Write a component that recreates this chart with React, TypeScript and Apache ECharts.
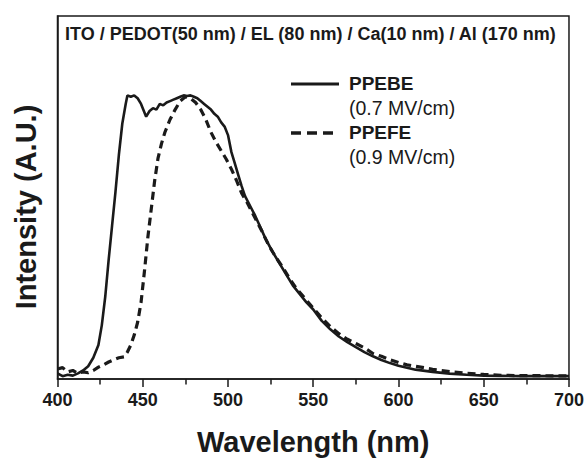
import React, { useEffect, useRef } from "react";
import * as echarts from "echarts";

const titleText = "ITO / PEDOT(50 nm) / EL (80 nm) / Ca(10 nm) / Al (170 nm)";
const xTicks = [400, 450, 500, 550, 600, 650, 700];
const yTitle = "Intensity (A.U.)";

const ppebeX = [400, 403, 406, 409, 412, 415, 418, 421, 424, 426, 428, 430, 432, 434, 436, 438, 440, 441, 443, 445, 447, 449, 451, 452, 454, 456, 458, 460, 462, 464, 466, 468, 470, 472, 474, 476, 478, 480, 482, 484, 486, 488, 490, 492, 494, 496, 498, 500, 502, 504, 506, 508, 510, 513, 516, 519, 522, 526, 530, 534, 538, 542, 546, 550, 555, 560, 565, 570, 575, 580, 585, 590, 595, 600, 610, 620, 630, 640, 650, 660, 670, 680, 690, 700];
const ppebeY = [0.02, 0.01, 0.015, 0.012, 0.02, 0.03, 0.045, 0.075, 0.12, 0.19, 0.29, 0.42, 0.54, 0.66, 0.79, 0.9, 0.97, 1.0, 0.995, 1.0, 0.99, 0.97, 0.94, 0.925, 0.945, 0.955, 0.95, 0.97, 0.965, 0.975, 0.98, 0.985, 0.99, 0.995, 1.0, 0.998, 1.0, 0.995, 0.99, 0.98, 0.97, 0.96, 0.95, 0.935, 0.925, 0.905, 0.89, 0.86, 0.8, 0.76, 0.72, 0.68, 0.645, 0.61, 0.575, 0.535, 0.495, 0.45, 0.41, 0.37, 0.33, 0.3, 0.27, 0.245, 0.205, 0.175, 0.15, 0.13, 0.112, 0.095, 0.08, 0.067, 0.056, 0.047, 0.033, 0.025, 0.019, 0.015, 0.012, 0.011, 0.01, 0.01, 0.01, 0.01];

const ppefeX = [400, 403, 406, 409, 412, 415, 418, 421, 424, 427, 430, 433, 436, 439, 441, 443, 445, 447, 449, 451, 453, 455, 457, 459, 461, 463, 466, 469, 472, 475, 478, 481, 484, 487, 490, 493, 496, 499, 502, 505, 508, 511, 514, 517, 520, 524, 528, 532, 536, 540, 545, 550, 555, 560, 565, 570, 575, 580, 585, 590, 595, 600, 605, 610, 615, 620, 625, 630, 640, 650, 660, 670, 680, 690, 700];
const ppefeY = [0.035, 0.04, 0.025, 0.03, 0.02, 0.025, 0.022, 0.03, 0.042, 0.05, 0.06, 0.068, 0.075, 0.078, 0.095, 0.12, 0.155, 0.2, 0.27, 0.38, 0.5, 0.6, 0.7, 0.78, 0.83, 0.87, 0.915, 0.95, 0.98, 0.995, 0.99, 0.975, 0.95, 0.915, 0.87, 0.835, 0.805, 0.775, 0.74, 0.7, 0.655, 0.625, 0.59, 0.555, 0.52, 0.47, 0.43, 0.395, 0.355, 0.32, 0.285, 0.25, 0.215, 0.185, 0.16, 0.14, 0.125, 0.11, 0.09, 0.08, 0.068, 0.058, 0.05, 0.045, 0.04, 0.034, 0.03, 0.026, 0.02, 0.016, 0.013, 0.012, 0.012, 0.011, 0.011];

const seriesNames = ["PPEBE", "PPEFE"];
const fieldLabels = ["(0.7 MV/cm)", "(0.9 MV/cm)"];

const FONT = "'Liberation Sans', Arial, Helvetica, sans-serif";
const INK = "#1a1a1a";

export default function App() {
  const ref = useRef<HTMLDivElement>(null);
  useEffect(() => {
    if (!ref.current) return;
    const chart = echarts.init(ref.current, undefined, { renderer: "svg" });
    const pair = (xs: number[], ys: number[]) => xs.map((x, i) => [x, ys[i]]);
    chart.setOption({
      animation: false,
      backgroundColor: "#fff",
      grid: { left: 57.5, right: 17, top: 16, bottom: 76, show: true, borderColor: INK, borderWidth: 1.5, backgroundColor: "transparent" },
      xAxis: {
        type: "value",
        min: xTicks[0],
        max: xTicks[xTicks.length - 1],
        interval: 50,
        axisLine: { show: true, onZero: false, lineStyle: { color: INK, width: 1.5 } },
        axisTick: { show: true, inside: false, length: 8, lineStyle: { color: INK, width: 1.5 } },
        minorTick: { show: true, splitNumber: 2, length: 5.5, lineStyle: { color: INK, width: 1.5 } },
        splitLine: { show: false },
        axisLabel: { color: INK, fontSize: 18, fontWeight: "bold", fontFamily: FONT, margin: 12 },
        name: "Wavelength (nm)",
        nameLocation: "middle",
        nameGap: 48,
        nameTextStyle: { color: INK, fontSize: 29, fontWeight: "bold", fontFamily: FONT },
      },
      yAxis: {
        type: "value",
        min: 0,
        max: 1.28,
        axisLine: { show: true, lineStyle: { color: INK, width: 1.5 } },
        axisTick: { show: false },
        axisLabel: { show: false },
        splitLine: { show: false },
      },
      series: [
        {
          name: seriesNames[0],
          type: "line",
          data: pair(ppebeX, ppebeY),
          showSymbol: false,
          lineStyle: { color: INK, width: 2.6 },
          z: 3,
        },
        {
          name: seriesNames[1],
          type: "line",
          data: pair(ppefeX, ppefeY),
          showSymbol: false,
          lineStyle: { color: INK, width: 3.2, type: [8, 5] },
          z: 2,
        },
      ],
      graphic: [
        { type: "text", x: 26, y: 207, rotation: Math.PI / 2, style: { text: yTitle, fill: INK, font: `bold 29px ${FONT}`, align: "center", verticalAlign: "middle" } },
        { type: "text", left: 65, top: 25, style: { text: titleText, fill: INK, font: `bold 18px ${FONT}` } },
        { type: "line", shape: { x1: 291, y1: 84, x2: 339, y2: 84 }, style: { stroke: INK, lineWidth: 3 } },
        { type: "line", shape: { x1: 291, y1: 133, x2: 339, y2: 133 }, style: { stroke: INK, lineWidth: 3.5, lineDash: [10, 6] } },
        { type: "text", left: 349, top: 74, style: { text: seriesNames[0], fill: INK, font: `bold 19px ${FONT}` } },
        { type: "text", left: 349, top: 98, style: { text: fieldLabels[0], fill: INK, font: `19.5px ${FONT}` } },
        { type: "text", left: 349, top: 123, style: { text: seriesNames[1], fill: INK, font: `bold 19px ${FONT}` } },
        { type: "text", left: 349, top: 147, style: { text: fieldLabels[1], fill: INK, font: `19.5px ${FONT}` } },
      ],
    });
    return () => chart.dispose();
  }, []);
  return <div ref={ref} style={{ position: "fixed", left: 0, top: 0, width: 587, height: 461 }} />;
}
